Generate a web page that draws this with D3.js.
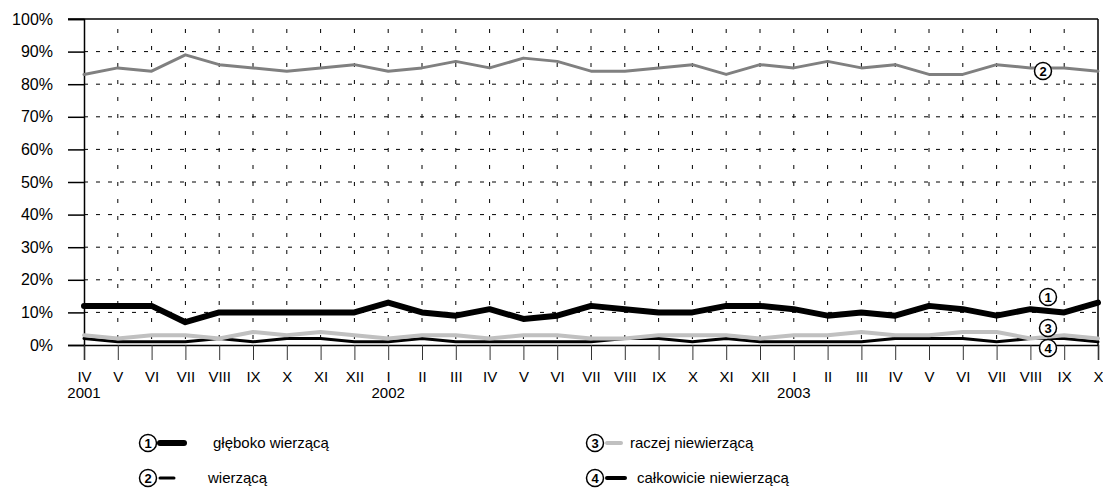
<!DOCTYPE html>
<html>
<head>
<meta charset="utf-8">
<script src="https://cdn.jsdelivr.net/npm/d3@7"></script>
<style>
  body { margin: 0; background: #fff; }
  text { font-family: "Liberation Sans", Arial, sans-serif; fill: #000; }
</style>
</head>
<body>
<svg id="chart" width="1103" height="495"></svg>
<script>
// months IV 2001 .. X 2003
var months = ["IV","V","VI","VII","VIII","IX","X","XI","XII",
  "I","II","III","IV","V","VI","VII","VIII","IX","X","XI","XII",
  "I","II","III","IV","V","VI","VII","VIII","IX","X"];
var years = [{i: 0, label: "2001"}, {i: 9, label: "2002"}, {i: 21, label: "2003"}];
var yTicks = [0, 10, 20, 30, 40, 50, 60, 70, 80, 90, 100];

var gleboko = [12,12,12,7,10,10,10,10,10,13,10,9,11,8,9,12,11,10,10,12,12,11,9,10,9,12,11,9,11,10,13];
var wierzaca = [83,85,84,89,86,85,84,85,86,84,85,87,85,88,87,84,84,85,86,83,86,85,87,85,86,83,83,86,85,85,84];
var raczej = [3,2,3,3,2,4,3,4,3,2,3,3,2,3,3,2,2,3,3,3,2,3,3,4,3,3,4,4,2,3,2];
var calkowicie = [2,1,1,1,2,1,2,2,1,1,2,1,1,1,1,1,2,2,1,2,1,1,1,1,2,2,2,1,2,2,1];

var legendLabels = ["głęboko wierzącą", "wierzącą", "raczej niewierzącą", "całkowicie niewierzącą"];

var svg = d3.select("#chart");
var pLeft = 84, pRight = 1098, pTop = 19, pBottom = 345;

var x = d3.scaleLinear().domain([0, months.length - 1]).range([pLeft, pRight]);
var y = d3.scaleLinear().domain([0, 100]).range([pBottom, pTop]);

// grid
svg.append("g").selectAll("line").data(yTicks.slice(1, -1)).enter().append("line")
  .attr("x1", pLeft).attr("x2", pRight)
  .attr("y1", function (d) { return y(d); }).attr("y2", function (d) { return y(d); })
  .attr("stroke", "#000").attr("stroke-width", 1).attr("stroke-dasharray", "4,8");
svg.append("g").selectAll("line").data(d3.range(1, months.length - 1)).enter().append("line")
  .attr("x1", function (d) { return x(d); }).attr("x2", function (d) { return x(d); })
  .attr("y1", pTop + 10).attr("y2", pBottom)
  .attr("stroke", "#000").attr("stroke-width", 1).attr("stroke-dasharray", "4,13");

// frame
svg.append("line").attr("x1", pLeft - 16).attr("x2", pRight).attr("y1", pTop).attr("y2", pTop)
  .attr("stroke", "#000").attr("stroke-width", 1.5);
svg.append("line").attr("x1", pRight).attr("x2", pRight).attr("y1", pTop).attr("y2", pBottom)
  .attr("stroke", "#000").attr("stroke-width", 1.5);

// y axis
var yAxis = d3.axisLeft(y).tickValues(yTicks).tickSize(16).tickPadding(15)
  .tickFormat(function (d) { return d + "%"; });
var gy = svg.append("g").attr("transform", "translate(" + pLeft + ",0)").call(yAxis);
gy.select(".domain").attr("stroke-width", 1.5);
gy.selectAll(".tick line").attr("stroke-width", 1.5);
gy.selectAll("text").style("font-family", "Liberation Sans, Arial, sans-serif").style("font-size", "16px");

// x axis
var xAxis = d3.axisBottom(x).tickValues(d3.range(months.length)).tickSize(15).tickPadding(11)
  .tickFormat(function (d) { return months[d]; });
var gx = svg.append("g").attr("transform", "translate(0," + pBottom + ")").call(xAxis);
gx.select(".domain").attr("stroke-width", 1.5);
gx.selectAll(".tick line").attr("stroke", "#333");
gx.selectAll("text").style("font-family", "Liberation Sans, Arial, sans-serif").style("font-size", "15px");

svg.append("g").selectAll("text").data(years).enter().append("text")
  .attr("x", function (d) { return x(d.i); }).attr("y", 398)
  .attr("text-anchor", "middle").style("font-size", "15px")
  .text(function (d) { return d.label; });

// series
var line = d3.line().x(function (d, i) { return x(i); }).y(function (d) { return y(d); });
var series = [
  {data: wierzaca, color: "#808080", width: 3},
  {data: calkowicie, color: "#000", width: 3},
  {data: raczej, color: "#c0c0c0", width: 4},
  {data: gleboko, color: "#000", width: 6}
];
series.forEach(function (s) {
  svg.append("path").datum(s.data).attr("d", line)
    .attr("fill", "none").attr("stroke", s.color).attr("stroke-width", s.width)
    .attr("stroke-linejoin", "round").attr("stroke-linecap", "round");
});

function badge(cx, cy, n) {
  svg.append("circle").attr("cx", cx).attr("cy", cy).attr("r", 8.5)
    .attr("fill", "#fff").attr("stroke", "#000").attr("stroke-width", 1.5);
  svg.append("text").attr("x", cx).attr("y", cy + 4.5).attr("text-anchor", "middle")
    .style("font-size", "13px").style("font-weight", "bold").text(n);
}

// series labels
badge(1048, 297, "1");
badge(1043, 71, "2");
badge(1048, 328, "3");
badge(1048, 348, "4");

// legend
var legendItems = [
  {n: "1", x: 148, y: 443, color: "#000", width: 6, len: 24, tx: 213, label: legendLabels[0]},
  {n: "2", x: 148, y: 478, color: "#000", width: 3, len: 14, tx: 208, label: legendLabels[1]},
  {n: "3", x: 595, y: 443, color: "#c0c0c0", width: 4, len: 14, tx: 630, label: legendLabels[2]},
  {n: "4", x: 595, y: 478, color: "#000", width: 4, len: 18, tx: 637, label: legendLabels[3]}
];
legendItems.forEach(function (d) {
  badge(d.x, d.y, d.n);
  svg.append("line").attr("x1", d.x + 12).attr("x2", d.x + 12 + d.len)
    .attr("y1", d.y).attr("y2", d.y)
    .attr("stroke", d.color).attr("stroke-width", d.width).attr("stroke-linecap", "round");
  svg.append("text").attr("x", d.tx).attr("y", d.y + 5)
    .style("font-size", "15px").text(d.label);
});
</script>
</body>
</html>
